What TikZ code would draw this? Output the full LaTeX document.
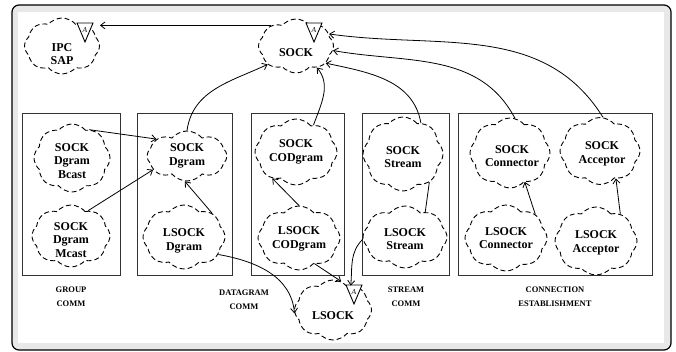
\documentclass[tikz,border=0pt]{standalone}
\usepackage{fontspec}
\setmainfont{Liberation Serif}
\usetikzlibrary{shapes.symbols,arrows.meta,fit}

\tikzset{
  pkg/.style={cloud, cloud puffs=8, cloud puff arc=100, cloud ignores aspect,
    draw, dash pattern=on 5pt off 3pt, line width=0.9pt, inner sep=0pt},
  pkgtext/.style={align=center, inner sep=0pt,
    font=\fontsize{12}{13.5}\selectfont\bfseries},
  catbox/.style={draw=black!80, line width=1pt, inner sep=0pt},
  caption/.style={align=center, inner sep=0pt,
    font=\fontsize{8.5}{14}\selectfont\bfseries},
  link/.style={line width=0.8pt},
  uses/.style={link, -{Straight Barb[length=4.5pt,width=7pt]}},
  abadge/.pic={
    \draw[fill=white, line width=0.9pt] (-8,0) -- (8,0) -- (0,19) -- cycle;
    \node[inner sep=0pt, font=\fontsize{7.5}{7.5}\selectfont\itshape] at (0,7.5) {A};
  },
}

\begin{document}
\begin{tikzpicture}[x=1pt, y=-1pt]
\useasboundingbox (0,0) rectangle (676,352);

% window frame
\draw[line width=1.2pt, fill=black!9, rounded corners=7pt] (12,5) rectangle (671,350);
\fill[white] (18,12) rectangle (664,343);

% category boxes
\node[catbox, fit={(22,114) (120,275)}] (groupbox) {};
\node[catbox, fit={(137,114) (232,275)}] (dgrambox) {};
\node[catbox, fit={(251,114) (344,275)}] (codbox) {};
\node[catbox, fit={(362,114) (449,275)}] (streambox) {};
\node[catbox, fit={(458,114) (652,275)}] (connbox) {};

% captions
\node[caption] (capgroup) at (71,297) {GROUP\\COMM};
\node[caption] (capdgram) at (244,300) {DATAGRAM\\COMM};
\node[caption] (capstream) at (406,297) {STREAM\\COMM};
\node[caption] (capconn) at (555,297) {CONNECTION\\ESTABLISHMENT};

% class categories
\node[pkg, minimum width=75pt, minimum height=56pt,
  label={[pkgtext,yshift=-8pt]center:IPC\\SAP}] (ipc) at (62,46) {};
\node[pkg, minimum width=75pt, minimum height=54pt,
  label={[pkgtext,yshift=-7pt]center:SOCK}] (sock) at (296,46) {};

\node[pkg, minimum width=76pt, minimum height=68pt,
  label={[pkgtext,yshift=-3pt]center:SOCK\\Dgram\\Bcast}] (bcast) at (72,158) {};
\node[pkg, minimum width=78pt, minimum height=62pt,
  label={[pkgtext,yshift=-4pt]center:SOCK\\Dgram\\Mcast}] (mcast) at (71,236) {};

\node[pkg, minimum width=80pt, minimum height=50pt,
  label={[pkgtext]center:SOCK\\Dgram}] (sdg) at (187,156) {};
\node[pkg, minimum width=82pt, minimum height=64pt,
  label={[pkgtext,yshift=-4pt]center:LSOCK\\Dgram}] (lsdg) at (184,237) {};

\node[pkg, minimum width=82pt, minimum height=66pt,
  label={[pkgtext]center:SOCK\\CODgram}] (scod) at (296,152) {};
\node[pkg, minimum width=82pt, minimum height=64pt,
  label={[pkgtext,yshift=-1pt]center:LSOCK\\CODgram}] (lscod) at (299,238) {};

\node[pkg, minimum width=80pt, minimum height=74pt,
  label={[pkgtext,yshift=-3pt]center:SOCK\\Stream}] (sstr) at (403,154) {};
\node[pkg, minimum width=84pt, minimum height=62pt,
  label={[pkgtext,yshift=-2pt]center:LSOCK\\Stream}] (lsstr) at (405,237) {};

\node[pkg, minimum width=77pt, minimum height=60pt,
  label={[pkgtext,yshift=-6pt]center:LSOCK}] (lsock) at (333,310) {};

\node[pkg, minimum width=80pt, minimum height=70pt,
  label={[pkgtext,xshift=2pt,yshift=-3pt]center:SOCK\\Connector}] (sconn) at (510,153) {};
\node[pkg, minimum width=80pt, minimum height=67pt,
  label={[pkgtext,xshift=2pt,yshift=-3pt]center:SOCK\\Acceptor}] (sacc) at (600,151) {};
\node[pkg, minimum width=82pt, minimum height=66pt,
  label={[pkgtext]center:LSOCK\\Connector}] (lsconn) at (506,238) {};
\node[pkg, minimum width=82pt, minimum height=68pt,
  label={[pkgtext,yshift=-2pt]center:LSOCK\\Acceptor}] (lsacc) at (596,241) {};

% abstract-category badges
\pic at (85,23) {abadge};
\pic at (314,23) {abadge};
\pic at (354,285) {abadge};

% dependencies on SOCK
\draw[uses] (sock.140) -- (sock.140 -| ipc.east);
\draw[uses] (sdg.north) to[out=82,in=205] (sock.213);
\draw[uses] (scod.57) to[out=70,in=-50] (sock.314);
\draw[uses] (sstr.60) to[out=100,in=-12] (sock.330);
\draw[uses] (sconn.82) to[out=118,in=-10] (sock.353);
\draw[uses] (sacc.85) to[out=122,in=-8] (sock.20);

% datagram family
\draw[uses] (bcast.59) -- (sdg.151);
\draw[uses] (mcast.56) -- (sdg.202);
\draw[uses] (lsdg.40) -- (sdg.265);
\draw[uses] (lscod.north) -- (scod.228);
\draw[link] (lsstr.51) -- (sstr.313);
\draw[uses] (lsconn.39) -- (sconn.297);
\draw[uses] (lsacc.48) -- (sacc.300);

% dependencies on LSOCK
\draw[uses] (lsdg.333) to[out=-10,in=95] (lsock.185);
\draw[uses] (lscod.301) -- (lsock.74);
\draw[uses] (lsstr.183) to[out=225,in=85] (lsock.54);
\end{tikzpicture}
\end{document}
